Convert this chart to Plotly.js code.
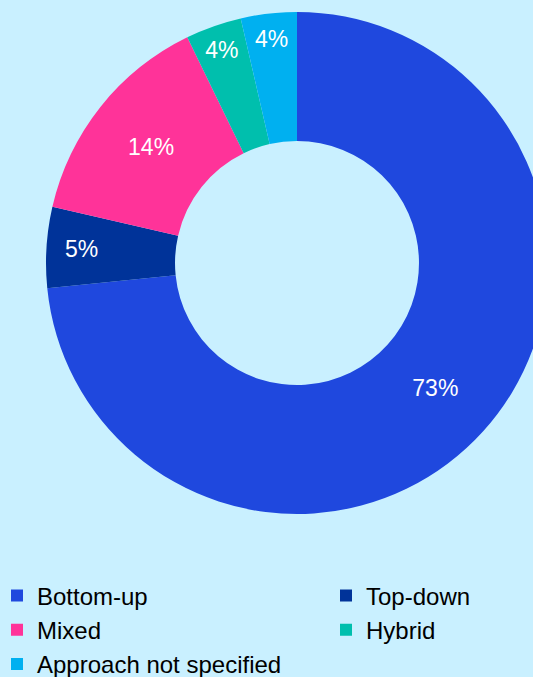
<!DOCTYPE html>
<html>
<head>
<meta charset="utf-8">
<script src="https://cdn.plot.ly/plotly-3.0.1.min.js"></script>
<style>
  html, body { margin: 0; padding: 0; overflow: hidden; background: #C9F0FF; }
  #chart { width: 658px; height: 700px; }
</style>
</head>
<body>
<div id="chart"></div>
<script>
const categories = ["Bottom-up", "Top-down", "Mixed", "Hybrid", "Approach not specified"];
const shares = [73.4, 5.2, 14.2, 3.6, 3.6];
const sliceColors = ["#1F48DE", "#003399", "#FF3399", "#00BFAD", "#00B0F0"];

const trace = {
  type: "pie",
  labels: categories,
  values: shares,
  sort: false,
  direction: "clockwise",
  rotation: 0,
  hole: 0.486,
  marker: { colors: sliceColors, line: { width: 0 } },
  textposition: "inside",
  insidetextorientation: "horizontal",
  texttemplate: "%{percent:.0%}",
  textfont: { family: "Liberation Sans, Arial, sans-serif", size: 23, color: "#FFFFFF" },
  domain: { x: [46/658, 548/658], y: [1 - 514/700, 1 - 12/700] },
  hoverinfo: "label+percent"
};

const layout = {
  width: 658,
  height: 700,
  margin: { l: 0, r: 0, t: 0, b: 0 },
  paper_bgcolor: "#C9F0FF",
  plot_bgcolor: "#C9F0FF",
  showlegend: true,
  uniformtext: { minsize: 23, mode: "show" },
  legend: {
    orientation: "h",
    x: 0, xanchor: "left",
    y: 1 - 573.4/700, yanchor: "top",
    entrywidthmode: "fraction",
    entrywidth: 0.5,
    indentation: -3,
    traceorder: "normal",
    bgcolor: "rgba(0,0,0,0)",
    font: { family: "Liberation Sans, Arial, sans-serif", size: 24, color: "#000000" }
  },
  font: { family: "Liberation Sans, Arial, sans-serif" }
};

Plotly.newPlot("chart", [trace], layout, { displayModeBar: false, staticPlot: true });
</script>
</body>
</html>
